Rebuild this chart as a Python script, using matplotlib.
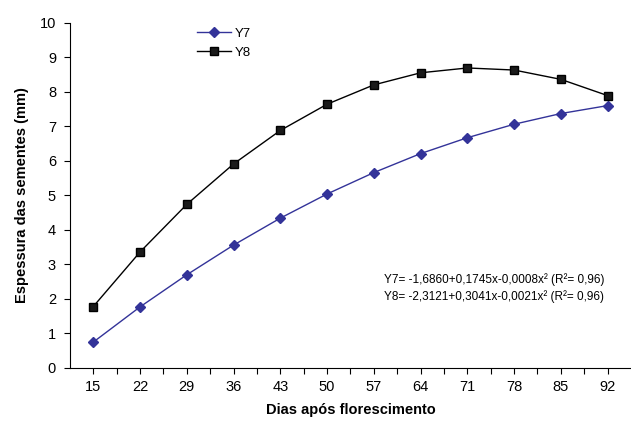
import numpy as np
import matplotlib.pyplot as plt

plt.rcParams['font.family'] = ['Liberation Sans', 'DejaVu Sans']

# ── data ─────────────────────────────
dias = [15, 22, 29, 36, 43, 50, 57, 64, 71, 78, 85, 92]
y7 = [0.75, 1.77, 2.70, 3.56, 4.34, 5.04, 5.66, 6.21, 6.67, 7.06, 7.37, 7.60]
y8 = [1.78, 3.36, 4.74, 5.91, 6.88, 7.64, 8.20, 8.55, 8.69, 8.63, 8.36, 7.89]

eq7 = "Y7= -1,6860+0,1745x-0,0008x² (R²= 0,96)"
eq8 = "Y8= -2,3121+0,3041x-0,0021x² (R²= 0,96)"

# ── plot ─────────────────────────────
fig = plt.figure(figsize=(6.31, 4.21), dpi=100)
ax = fig.add_axes([0.1108, 0.1259, 0.8892, 0.8201])

x = np.arange(len(dias))
ax.plot(x, y7, color='#333399', lw=1.0, marker='D', ms=5,
        mfc='#333399', mec='#333399', label='Y7')
ax.plot(x, y8, color='black', lw=1.0, marker='s', ms=6,
        mfc='#1a1a1a', mec='black', label='Y8')

ax.set_xlim(-0.5, len(dias) - 0.5)
ax.set_ylim(0, 10)
ax.set_xticks(x)
ax.set_xticklabels([str(d) for d in dias])
ax.set_xticks(x[:-1] + 0.5, minor=True)
ax.set_yticks(range(0, 11))
ax.tick_params(axis='both', which='both', direction='out', length=4,
               width=0.8, labelsize=10.5, colors='black')
ax.tick_params(axis='x', pad=5)
ax.tick_params(axis='y', pad=6)

for s in ['top', 'right']:
    ax.spines[s].set_visible(False)
for s in ['left', 'bottom']:
    ax.spines[s].set_linewidth(0.8)

ax.set_xlabel('Dias após florescimento', fontsize=10.5, fontweight='bold', labelpad=6)
ax.set_ylabel('Espessura das sementes (mm)', fontsize=10.5, fontweight='bold', labelpad=8)

ax.text(0.56, 0.255, eq7, transform=ax.transAxes, fontsize=8.5, va='center')
ax.text(0.56, 0.206, eq8, transform=ax.transAxes, fontsize=8.5, va='center')

ax.legend(loc='upper left', bbox_to_anchor=(0.205, 1.02), frameon=False,
          fontsize=9.5, handlelength=2.6, handletextpad=0.3, labelspacing=0.5)

fig.savefig('out.png', dpi=100)
